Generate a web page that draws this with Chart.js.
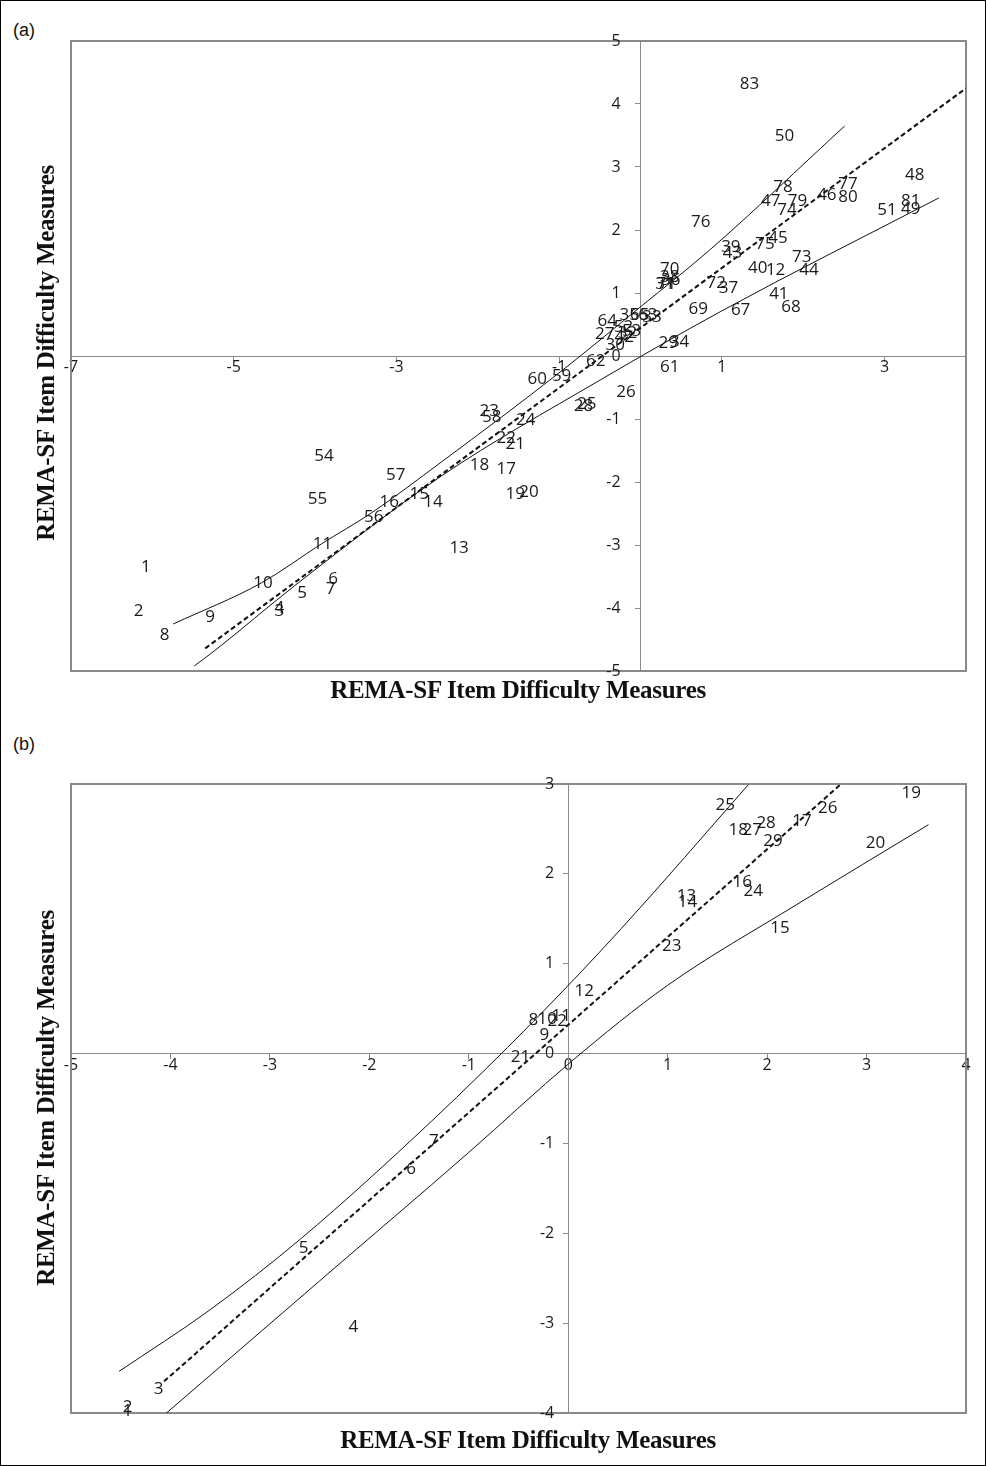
<!DOCTYPE html>
<html>
<head>
<meta charset="utf-8">
<script src="https://cdn.jsdelivr.net/npm/chart.js@4.4.1/dist/chart.umd.min.js"></script>
<style>
  body { margin: 0; background: #fff; }
  #page { position: relative; width: 984px; height: 1464px; border: 1px solid #000; background: #fff; }
  canvas { position: absolute; left: 0; }
  .tag { position: absolute; font: 18px "Liberation Sans", Arial, sans-serif; color: #111; }
  .xtitle { position: absolute; width: 520px; text-align: center; font: bold 25px "Liberation Serif", serif; color: #111; letter-spacing: -0.3px; }
  .ytitle { position: absolute; width: 520px; text-align: center; font: bold 25px "Liberation Serif", serif; color: #111; letter-spacing: -0.3px; transform: rotate(-90deg); transform-origin: center center; }
</style>
</head>
<body>
<div id="page">
  <div class="tag" style="left:12px; top:19px;">(a)</div>
  <canvas id="chartA" width="984" height="700" style="top:0;"></canvas>
  <div class="ytitle" style="left:-215px; top:338px;">REMA-SF Item Difficulty Measures</div>
  <div class="xtitle" style="left:257px; top:675px;">REMA-SF Item Difficulty Measures</div>

  <div class="tag" style="left:12px; top:733px;">(b)</div>
  <canvas id="chartB" width="984" height="690" style="top:760px;"></canvas>
  <div class="ytitle" style="left:-215px; top:1083px;">REMA-SF Item Difficulty Measures</div>
  <div class="xtitle" style="left:267px; top:1425px;">REMA-SF Item Difficulty Measures</div>
</div>
<script>
// ---- panel (a) : item labels and positions ----
const itemsA = ['83','50','48','78','77','47','79','46','80','74','81','51','49','76','39','43','75','45','73','40',
  '12','44','70','38','36','71','72','37','41','69','67','68','64','35','65','63','27','52','32','42',
  '30','62','29','34','61','60','59','26','25','28','23','58','24','22','21','18','17','19','20','13',
  '14','15','16','56','57','54','55','11','10','6','7','5','4','3','1','2','9','8','31','33','53'];
const xA = [1.34,1.77,3.37,1.75,2.55,1.60,1.93,2.29,2.55,1.80,3.32,3.03,3.32,0.74,1.11,1.13,1.53,1.69,1.98,1.44,
  1.66,2.07,0.36,0.36,0.37,0.32,0.93,1.08,1.70,0.71,1.23,1.85,-0.41,-0.14,-0.01,0.09,-0.44,-0.21,-0.16,-0.20,
  -0.31,-0.55,0.34,0.48,0.36,-1.27,-0.97,-0.18,-0.66,-0.70,-1.86,-1.83,-1.41,-1.65,-1.54,-1.98,-1.65,-1.54,-1.37,-2.23,
  -2.55,-2.72,-3.09,-3.28,-3.01,-3.89,-3.97,-3.91,-4.64,-3.78,-3.81,-4.16,-4.44,-4.44,-6.08,-6.17,-5.29,-5.85,0.30,0.14,-0.11];
const yA = [4.32,3.49,2.87,2.68,2.73,2.46,2.46,2.56,2.52,2.32,2.46,2.32,2.33,2.13,1.73,1.63,1.78,1.87,1.57,1.40,
  1.37,1.37,1.38,1.25,1.21,1.14,1.16,1.08,0.98,0.75,0.73,0.78,0.56,0.65,0.65,0.65,0.35,0.46,0.37,0.30,
  0.17,-0.08,0.21,0.22,-0.17,-0.37,-0.32,-0.57,-0.76,-0.79,-0.87,-0.97,-1.02,-1.30,-1.40,-1.73,-1.79,-2.19,-2.16,-3.05,
  -2.32,-2.19,-2.32,-2.56,-1.89,-1.59,-2.27,-2.98,-3.60,-3.54,-3.70,-3.76,-4.00,-4.05,-3.35,-4.05,-4.14,-4.43,1.14,0.62,0.40];

// identity-type reference line and the two control curves (a)
const dashAX = [-5.35, 4.0];
const dashAY = [-4.64, 4.25];
const curve1AX = [-5.744, -4.662, -3.924, -3.309, -2.448, -0.972, 0.012, 0.836, 2.509];
const curve1AY = [-4.254, -3.603, -2.984, -2.492, -1.683, -0.238, 0.794, 1.667, 3.651];
const curve2AX = [-5.486, -5.240, -4.256, -2.448, -0.517, 0.996, 3.665];
const curve2AY = [-4.921, -4.683, -3.651, -1.905, -0.397, 0.714, 2.508];

const xTicksA = [-7, -5, -3, -1, 1, 3];
const yTicksA = [-5, -4, -3, -2, -1, 0, 1, 2, 3, 4, 5];

// ---- panel (b) ----
const itemsB = ['25','19','18','27','28','17','26','29','20','16','24','13','14','15','23','12','8','10','22','11','9','21','7','6','5','4','3','2','1'];
const xB = [1.58,3.45,1.71,1.85,1.99,2.35,2.61,2.06,3.09,1.75,1.86,1.19,1.20,2.13,1.04,0.16,-0.35,-0.21,-0.11,-0.07,-0.24,-0.48,-1.35,-1.58,-2.66,-2.16,-4.12,-4.43,-4.43];
const yB = [2.77,2.90,2.49,2.49,2.56,2.59,2.73,2.36,2.34,1.91,1.81,1.75,1.69,1.40,1.19,0.70,0.37,0.38,0.36,0.42,0.21,-0.04,-0.98,-1.29,-2.16,-3.04,-3.74,-3.94,-3.98];

const dashBX = [-4.064, 2.736];
const dashBY = [-3.648, 2.992];
const curve1BX = [-4.517, -3.60, -2.686, -1.378, -0.352, 0.533, 1.811];
const curve1BY = [-3.537, -2.85, -2.058, -0.756, 0.356, 1.390, 2.992];
const curve2BX = [-4.044, -2.50, -1.000, 0.030, 1.000, 2.300, 3.622];
const curve2BY = [-4.004, -2.53, -1.100, -0.089, 0.760, 1.660, 2.547];

const xTicksB = [-5, -4, -3, -2, -1, 0, 1, 2, 3, 4];
const yTicksB = [-4, -3, -2, -1, 0, 1, 2, 3];

const FONT = 'Open Sans';
const TXT = '#1a1a1a';
const AXIS = '#8a8a8a';

function pts(xs, ys) {
    return xs.map((x, i) => ({ x, y: ys[i] }));
}

// draws the item numbers at their scatter positions
const itemLabels = {
    id: 'itemLabels',
    afterDatasetsDraw(chart) {
        const ctx = chart.ctx;
        ctx.save();
        ctx.font = `17px "${FONT}"`;
        ctx.fillStyle = TXT;
        ctx.textAlign = 'center';
        ctx.textBaseline = 'middle';
        chart.data.datasets.forEach((ds, i) => {
            if (!ds.itemNames) return;
            chart.getDatasetMeta(i).data.forEach((pt, j) => {
                ctx.fillText(ds.itemNames[j], pt.x, pt.y);
            });
        });
        ctx.restore();
    }
};

// y tick labels sit left of the y axis, which crosses at x = 0
const yLabels = {
    id: 'yLabels',
    afterDraw(chart, args, opts) {
        const ctx = chart.ctx;
        const xs = chart.scales.x;
        const ys = chart.scales.y;
        const x0 = xs.getPixelForValue(0) - opts.gap;
        ctx.save();
        ctx.font = `16px "${FONT}"`;
        ctx.fillStyle = TXT;
        ctx.textAlign = 'right';
        ctx.textBaseline = 'middle';
        opts.values.forEach(v => {
            ctx.fillText(String(v), x0, ys.getPixelForValue(v));
        });
        ctx.restore();
    }
};

// grey plot-area frame
const plotFrame = {
    id: 'plotFrame',
    beforeDatasetsDraw(chart) {
        const a = chart.chartArea;
        const ctx = chart.ctx;
        ctx.save();
        ctx.strokeStyle = AXIS;
        ctx.lineWidth = 2;
        ctx.strokeRect(a.left, a.top, a.right - a.left, a.bottom - a.top);
        ctx.restore();
    }
};

function lineSet(xs, ys, dashed) {
    return {
        data: pts(xs, ys),
        showLine: true,
        pointRadius: 0,
        borderColor: '#111',
        borderWidth: dashed ? 2 : 1,
        borderDash: dashed ? [5, 3] : [],
        cubicInterpolationMode: 'monotone',
        fill: false,
    };
}

function makeChart(id, items, xs, ys, lines, xr, yr, xTicks, yTicks, pad, gap) {
    const ctx = document.getElementById(id).getContext('2d');
    return new Chart(ctx, {
        type: 'scatter',
        data: {
            datasets: [
                { data: pts(xs, ys), itemNames: items, pointRadius: 0, showLine: false },
                ...lines,
            ],
        },
        options: {
            responsive: false,
            animation: false,
            layout: { padding: pad },
            plugins: {
                legend: { display: false },
                tooltip: { enabled: false },
                yLabels: { values: yTicks, gap: gap },
            },
            scales: {
                x: {
                    type: 'linear', min: xr[0], max: xr[1],
                    position: { y: 0 },
                    afterBuildTicks: s => { s.ticks = xTicks.map(v => ({ value: v })); },
                    grid: { drawOnChartArea: false, tickLength: 5, color: AXIS },
                    border: { color: AXIS, width: 1 },
                    ticks: { font: { family: FONT, size: 16 }, color: TXT, padding: -3, autoSkip: false, maxRotation: 0 },
                },
                y: {
                    type: 'linear', min: yr[0], max: yr[1],
                    position: { x: 0 },
                    afterBuildTicks: s => { s.ticks = yTicks.map(v => ({ value: v })); },
                    grid: { drawOnChartArea: false, tickLength: 5, color: AXIS },
                    border: { color: AXIS, width: 1 },
                    ticks: { display: false },
                },
            },
        },
        plugins: [plotFrame, itemLabels, yLabels],
    });
}

makeChart('chartA', itemsA, xA, yA,
    [lineSet(curve1AX, curve1AY, false), lineSet(curve2AX, curve2AY, false), lineSet(dashAX, dashAY, true)],
    [-7, 4], [-5, 5], xTicksA, yTicksA, { left: 70, top: 40, right: 19, bottom: 30 }, 20);

makeChart('chartB', itemsB, xB, yB,
    [lineSet(curve1BX, curve1BY, false), lineSet(curve2BX, curve2BY, false), lineSet(dashBX, dashBY, true)],
    [-5, 4], [-4, 3], xTicksB, yTicksB, { left: 70, top: 23, right: 19, bottom: 38 }, 14);
</script>
</body>
</html>
